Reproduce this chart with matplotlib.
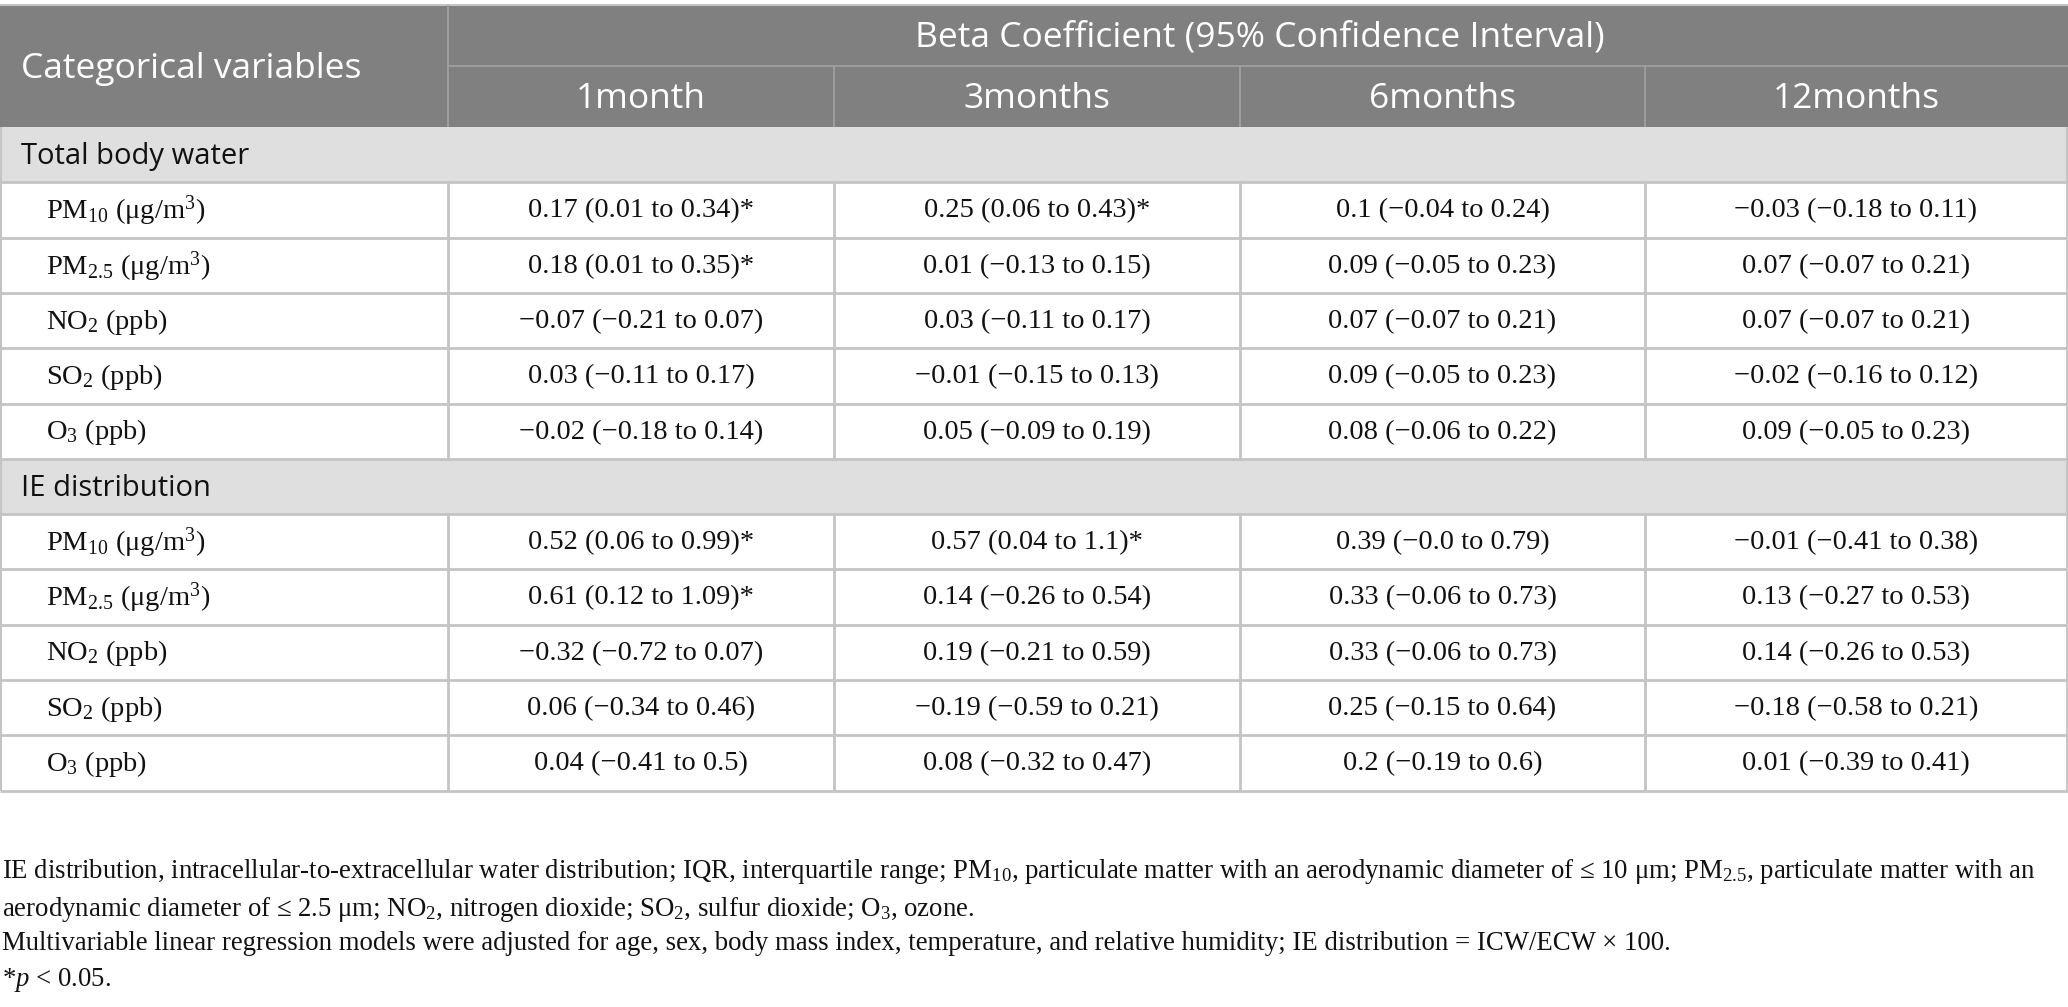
import matplotlib
matplotlib.use('Agg')
import matplotlib.pyplot as plt
from matplotlib.patches import Rectangle

plt.rcParams['mathtext.fontset'] = 'custom'
plt.rcParams['mathtext.rm'] = 'Liberation Serif'
plt.rcParams['mathtext.it'] = 'Liberation Serif:italic'

# table content
months = ['1month', '3months', '6months', '12months']
sections = ['Total body water', 'IE distribution']
pollutants = [r'PM$_{10}$ (μg/m$^{3}$)', r'PM$_{2.5}$ (μg/m$^{3}$)',
              r'NO$_{2}$ (ppb)', r'SO$_{2}$ (ppb)', r'O$_{3}$ (ppb)']

tbw_values = [
    ['0.17 (0.01 to 0.34)*', '0.25 (0.06 to 0.43)*', '0.1 (−0.04 to 0.24)', '−0.03 (−0.18 to 0.11)'],
    ['0.18 (0.01 to 0.35)*', '0.01 (−0.13 to 0.15)', '0.09 (−0.05 to 0.23)', '0.07 (−0.07 to 0.21)'],
    ['−0.07 (−0.21 to 0.07)', '0.03 (−0.11 to 0.17)', '0.07 (−0.07 to 0.21)', '0.07 (−0.07 to 0.21)'],
    ['0.03 (−0.11 to 0.17)', '−0.01 (−0.15 to 0.13)', '0.09 (−0.05 to 0.23)', '−0.02 (−0.16 to 0.12)'],
    ['−0.02 (−0.18 to 0.14)', '0.05 (−0.09 to 0.19)', '0.08 (−0.06 to 0.22)', '0.09 (−0.05 to 0.23)'],
]
ie_values = [
    ['0.52 (0.06 to 0.99)*', '0.57 (0.04 to 1.1)*', '0.39 (−0.0 to 0.79)', '−0.01 (−0.41 to 0.38)'],
    ['0.61 (0.12 to 1.09)*', '0.14 (−0.26 to 0.54)', '0.33 (−0.06 to 0.73)', '0.13 (−0.27 to 0.53)'],
    ['−0.32 (−0.72 to 0.07)', '0.19 (−0.21 to 0.59)', '0.33 (−0.06 to 0.73)', '0.14 (−0.26 to 0.53)'],
    ['0.06 (−0.34 to 0.46)', '−0.19 (−0.59 to 0.21)', '0.25 (−0.15 to 0.64)', '−0.18 (−0.58 to 0.21)'],
    ['0.04 (−0.41 to 0.5)', '0.08 (−0.32 to 0.47)', '0.2 (−0.19 to 0.6)', '0.01 (−0.39 to 0.41)'],
]

footnotes = [
    r'IE distribution, intracellular-to-extracellular water distribution; IQR, interquartile range; '
    r'PM$_{10}$, particulate matter with an aerodynamic diameter of ≤ 10 μm; PM$_{2.5}$, particulate matter with an',
    r'aerodynamic diameter of ≤ 2.5 μm; NO$_{2}$, nitrogen dioxide; SO$_{2}$, sulfur dioxide; O$_{3}$, ozone.',
    'Multivariable linear regression models were adjusted for age, sex, body mass index, temperature, '
    'and relative humidity; IE distribution = ICW/ECW × 100.',
    r'*$\mathit{p}$ < 0.05.',
]

W, H = 2068, 1007
fig = plt.figure(figsize=(W / 100, H / 100), dpi=100)
ax = fig.add_axes([0, 0, 1, 1])
ax.set_xlim(0, W)
ax.set_ylim(H, 0)
ax.axis('off')

col_x = [0, 448, 834, 1240, 1645, 2067]
hdr_top, hdr_mid, hdr_bot = 5, 66, 127
row_h = 55.3

dark = '#808080'
band = '#e0dfe0'
grid = '#c4c4c4'
inner = '#a2a2a2'
ink = '#111111'
sans = 'Open Sans'
serif = 'Liberation Serif'

# header
ax.add_patch(Rectangle((0, hdr_top), W, hdr_bot - hdr_top, color=dark, lw=0))
ax.hlines(hdr_top, 0, W, color=grid, lw=1.5)
ax.hlines(hdr_mid, col_x[1], W, color=inner, lw=1.2)
ax.vlines(col_x[1], hdr_top, hdr_bot, color=inner, lw=1.2)
ax.vlines(col_x[2:5], hdr_mid, hdr_bot, color=inner, lw=1.2)
ax.text(21, (hdr_top + hdr_bot) / 2 + 3, 'Categorical variables', family=sans,
        fontsize=25.5, color='white', va='center', ha='left')
ax.text((col_x[1] + W) / 2 + 2, (hdr_top + hdr_mid) / 2 + 2,
        'Beta Coefficient (95% Confidence Interval)', family=sans,
        fontsize=25.5, color='white', va='center', ha='center')
for i, m in enumerate(months):
    ax.text((col_x[i + 1] + col_x[i + 2]) / 2, (hdr_mid + hdr_bot) / 2 + 3, m,
            family=sans, fontsize=25.5, color='white', va='center', ha='center')

# body
y = hdr_bot
for sec, vals in zip(sections, [tbw_values, ie_values]):
    ax.add_patch(Rectangle((0, y), W, row_h, color=band, lw=0))
    ax.text(21, y + row_h / 2 + 2, sec, family=sans, fontsize=21,
            color=ink, va='center', ha='left')
    ax.hlines(y + row_h, 0, W, color=grid, lw=2)
    ax.vlines([0.5, col_x[-1]], y, y + row_h, color=grid, lw=1.5)
    y += row_h
    for lab, row in zip(pollutants, vals):
        ax.text(46, y + row_h / 2 + 1, lab, family=serif, fontsize=20.5,
                color=ink, va='center', ha='left')
        for j, v in enumerate(row):
            ax.text((col_x[j + 1] + col_x[j + 2]) / 2, y + row_h / 2 + 1, v,
                    family=serif, fontsize=20.5, color=ink,
                    va='center', ha='center')
        ax.vlines(col_x[1:], y, y + row_h, color=grid, lw=2)
        ax.vlines(0.5, y, y + row_h, color=grid, lw=1.5)
        ax.hlines(y + row_h, 0, W, color=grid, lw=2)
        y += row_h

# footnotes
for line, fy in zip(footnotes, [872, 909, 944, 980]):
    ax.text(2, fy, line, family=serif, fontsize=19.3, color=ink,
            va='center', ha='left')

fig.savefig('out.png', dpi=100, facecolor='white')
